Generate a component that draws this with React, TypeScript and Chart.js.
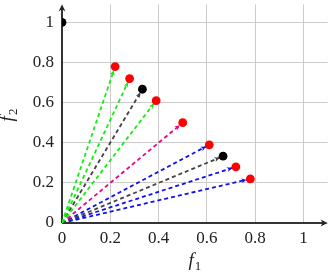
import React, { useEffect, useRef } from 'react';
import { Chart, registerables } from 'chart.js';

Chart.register(...registerables);

const tickValues = [0, 0.2, 0.4, 0.6, 0.8, 1];
const tickLabels = ['0', '0.2', '0.4', '0.6', '0.8', '1'];

const redX = [0.22, 0.28, 0.39, 0.5, 0.61, 0.72, 0.78];
const redY = [0.78, 0.72, 0.61, 0.5, 0.39, 0.28, 0.22];
const blackX = [0, 0.333, 0.667];
const blackY = [1, 0.667, 0.333];

const greenX = [0.22, 0.28, 0.39];
const greenY = [0.78, 0.72, 0.61];
const grayX = [0.333, 0.667];
const grayY = [0.667, 0.333];
const magentaX = [0.5];
const magentaY = [0.5];
const blueX = [0.61, 0.72, 0.78];
const blueY = [0.39, 0.28, 0.22];

const SERIF = "Liberation Serif, Times New Roman, Times, serif";

function arrowSets(xs: number[], ys: number[], color: string) {
  return xs.map((x, i) => ({
    data: [{ x: 0, y: 0 }, { x, y: ys[i] }],
    showLine: true,
    borderColor: color,
    backgroundColor: color,
    borderWidth: 1.8,
    borderDash: [4, 3],
    pointRadius: 0,
    order: 2,
    isArrow: true,
  }));
}

function drawHead(ctx: CanvasRenderingContext2D, tx: number, ty: number, ux: number, uy: number, len: number, half: number, color: string) {
  const px = -uy, py = ux;
  ctx.save();
  ctx.fillStyle = color;
  ctx.beginPath();
  ctx.moveTo(tx, ty);
  ctx.lineTo(tx - ux * len + px * half, ty - uy * len + py * half);
  ctx.lineTo(tx - ux * len * 0.7, ty - uy * len * 0.7);
  ctx.lineTo(tx - ux * len - px * half, ty - uy * len - py * half);
  ctx.closePath();
  ctx.fill();
  ctx.restore();
}

const arrowHeads = {
  id: 'arrowHeads',
  afterDatasetDraw(chart: any, args: any) {
    const ds = chart.data.datasets[args.index];
    if (!ds.isArrow) return;
    const xs = chart.scales.x, ys = chart.scales.y;
    const x0 = xs.getPixelForValue(ds.data[0].x), y0 = ys.getPixelForValue(ds.data[0].y);
    const x1 = xs.getPixelForValue(ds.data[1].x), y1 = ys.getPixelForValue(ds.data[1].y);
    const d = Math.hypot(x1 - x0, y1 - y0);
    const ux = (x1 - x0) / d, uy = (y1 - y0) / d;
    const r = 4;
    drawHead(chart.ctx, x1 - ux * r, y1 - uy * r, ux, uy, 5, 2.5, ds.borderColor);
  },
};

const axesPlugin = {
  id: 'axesPlugin',
  beforeDatasetsDraw(chart: any) {
    const { ctx, chartArea } = chart;
    const xs = chart.scales.x, ys = chart.scales.y;
    const ox = xs.getPixelForValue(0), oy = ys.getPixelForValue(0);
    ctx.save();
    ctx.strokeStyle = '#333';
    ctx.lineWidth = 2;
    ctx.beginPath();
    ctx.moveTo(ox, oy);
    ctx.lineTo(chartArea.right - 3, oy);
    ctx.moveTo(ox, oy);
    ctx.lineTo(ox, chartArea.top + 3);
    ctx.stroke();
    ctx.restore();
    drawHead(ctx, chartArea.right, oy, 1, 0, 7, 3.5, '#222');
    drawHead(ctx, ox, chartArea.top, 0, -1, 7, 3.5, '#222');
  },
  afterDraw(chart: any) {
    const { ctx, chartArea } = chart;
    ctx.save();
    ctx.fillStyle = '#222';
    ctx.textBaseline = 'alphabetic';
    const cx = (chartArea.left + chartArea.right) / 2;
    ctx.font = `italic 19px ${SERIF}`;
    const fw = ctx.measureText('f').width;
    ctx.font = `13px ${SERIF}`;
    const sw = ctx.measureText('1').width;
    const start = cx - (fw + sw + 1) / 2;
    ctx.font = `italic 19px ${SERIF}`;
    ctx.fillText('f', start, 266);
    ctx.font = `13px ${SERIF}`;
    ctx.fillText('1', start + fw + 1, 270);
    ctx.translate(0, 115);
    ctx.rotate(-Math.PI / 2);
    const st2 = -(fw + sw + 1) / 2;
    ctx.font = `italic 19px ${SERIF}`;
    ctx.fillText('f', st2, 13);
    ctx.font = `13px ${SERIF}`;
    ctx.fillText('2', st2 + fw + 1, 17);
    ctx.restore();
  },
};

function labelFor(v: number) {
  const i = tickValues.findIndex((t) => Math.abs(t - v) < 1e-6);
  return i >= 0 ? tickLabels[i] : '';
}

export default function App() {
  const ref = useRef<HTMLCanvasElement>(null);
  useEffect(() => {
    let chart: any = null;
    let cancelled = false;
    const build = () => {
      if (cancelled || !ref.current) return;
      const datasets: any[] = [
        ...arrowSets(greenX, greenY, '#11ee11'),
        ...arrowSets(grayX, grayY, '#444444'),
        ...arrowSets(magentaX, magentaY, '#ec008c'),
        ...arrowSets(blueX, blueY, '#1111ee'),
        {
          data: redX.map((x, i) => ({ x, y: redY[i] })),
          pointRadius: 4.4,
          pointBackgroundColor: '#ff0000',
          pointBorderWidth: 0,
          showLine: false,
          order: 1,
        },
        {
          data: blackX.map((x, i) => ({ x, y: blackY[i] })),
          pointRadius: 4.4,
          pointBackgroundColor: '#000000',
          pointBorderWidth: 0,
          showLine: false,
          order: 1,
        },
      ];
      const tickFont = { family: SERIF, size: 17 };
      chart = new Chart(ref.current, {
        type: 'scatter',
        data: { datasets },
        options: {
          animation: false,
          responsive: false,
          layout: { padding: { top: 2, right: 2, left: 0, bottom: 0 } },
          plugins: { legend: { display: false }, tooltip: { enabled: false } },
          scales: {
            x: {
              type: 'linear',
              min: 0,
              max: 1.1,
              afterBuildTicks: (s: any) => { s.ticks = tickValues.map((v) => ({ value: v })); },
              afterFit: (s: any) => { s.height = 50; s.paddingLeft = 0; s.paddingRight = 0; },
              ticks: { callback: (v: any) => labelFor(Number(v)), font: tickFont, color: '#222', padding: 5, maxRotation: 0, autoSkip: false },
              grid: { color: '#cccccc', lineWidth: 1, drawTicks: false },
              border: { display: false },
            },
            y: {
              type: 'linear',
              min: 0,
              max: 1.09,
              afterBuildTicks: (s: any) => { s.ticks = tickValues.map((v) => ({ value: v })); },
              afterFit: (s: any) => { s.width = 62; s.paddingTop = 0; s.paddingBottom = 0; },
              ticks: { callback: (v: any) => labelFor(Number(v)), font: tickFont, color: '#222', padding: 8, autoSkip: false },
              grid: { color: '#cccccc', lineWidth: 1, drawTicks: false },
              border: { display: false },
            },
          },
        } as any,
        plugins: [arrowHeads, axesPlugin],
      });
    };
    const fontsApi: any = (document as any).fonts;
    if (fontsApi && fontsApi.load) {
      Promise.all([
        fontsApi.load("17px 'Liberation Serif'"),
        fontsApi.load("italic 19px 'Liberation Serif'"),
        fontsApi.load("13px 'Liberation Serif'"),
      ]).then(build, build);
    } else {
      build();
    }
    return () => {
      cancelled = true;
      if (chart) chart.destroy();
    };
  }, []);
  return (
    <div style={{ position: 'fixed', left: 0, top: 0, width: 332, height: 273, background: '#fff' }}>
      <canvas ref={ref} width={332} height={273} />
    </div>
  );
}
